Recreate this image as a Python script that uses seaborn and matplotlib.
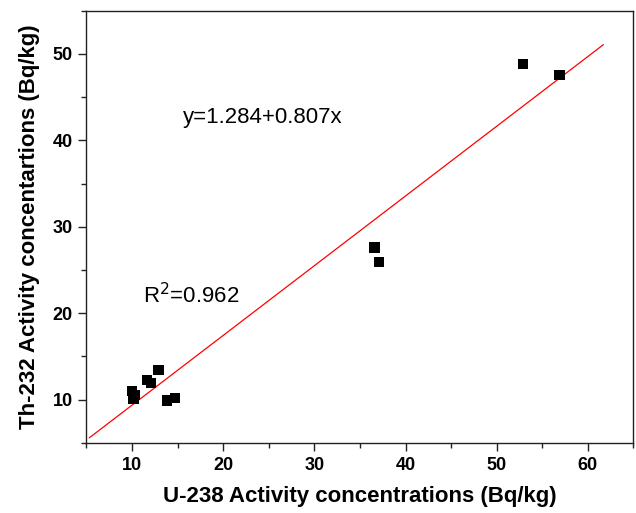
import matplotlib
matplotlib.use("Agg")
import matplotlib.pyplot as plt
import seaborn as sns
import numpy as np
import pandas as pd
from matplotlib.ticker import MultipleLocator

# Data
u238 = [12.9, 11.6, 12.05, 10.0, 10.25, 10.15, 13.85, 14.7, 36.6, 37.1, 52.9, 56.9]
th232 = [13.45, 12.3, 11.9, 11.0, 10.55, 10.1, 9.9, 10.2, 27.6, 25.9, 48.8, 47.6]
intercept = 1.284
slope = 0.807
line_x = [5.3, 61.7]

sns.set_theme(style="ticks")
plt.rcParams['font.family'] = ['Liberation Sans', 'DejaVu Sans']
plt.rcParams['text.color'] = 'black'
plt.rcParams['axes.labelcolor'] = 'black'
plt.rcParams['xtick.color'] = 'black'
plt.rcParams['ytick.color'] = 'black'

df = pd.DataFrame({"U238": u238, "Th232": th232})

fig = plt.figure(figsize=(6.36, 5.13), dpi=100)
ax = fig.add_axes([0.136, 0.137, 0.860, 0.842])

lx = np.array(line_x)
ly = intercept + slope * lx
sns.lineplot(x=lx, y=ly, ax=ax, color="red", linewidth=0.9)
sns.scatterplot(data=df, x="U238", y="Th232", ax=ax, marker="s", s=55,
                color="black", edgecolor="none", zorder=3)

ax.set_xlim(5, 65)
ax.set_ylim(5, 55)
ax.xaxis.set_major_locator(MultipleLocator(10))
ax.xaxis.set_minor_locator(MultipleLocator(5))
ax.yaxis.set_major_locator(MultipleLocator(10))
ax.yaxis.set_minor_locator(MultipleLocator(5))
ax.set_xticks([10, 20, 30, 40, 50, 60])
ax.set_yticks([10, 20, 30, 40, 50])

for sp in ax.spines.values():
    sp.set_visible(True)
    sp.set_color("#222222")
    sp.set_linewidth(1.0)

ax.tick_params(which="major", direction="out", length=6, width=1, color="#222222",
               labelsize=13, labelcolor="black", top=False, right=False, pad=4)
ax.tick_params(which="minor", direction="out", length=3.5, width=1, color="#222222",
               top=False, right=False)
for lab in ax.get_xticklabels() + ax.get_yticklabels():
    lab.set_fontweight("bold")

ax.set_xlabel("U-238 Activity concentrations (Bq/kg)", fontsize=16, fontweight="bold",
              labelpad=9, color="black")
ax.set_ylabel("Th-232 Activity concentartions (Bq/kg)", fontsize=16, fontweight="bold",
              labelpad=9, color="black")

ax.text(15.6, 42.7, "y=1.284+0.807x", fontsize=16, va="center", ha="left", color="black")
ax.text(11.2, 22.0, r"R$^2$=0.962", fontsize=16, va="center", ha="left", color="black")

fig.savefig("out.png", dpi=100)
